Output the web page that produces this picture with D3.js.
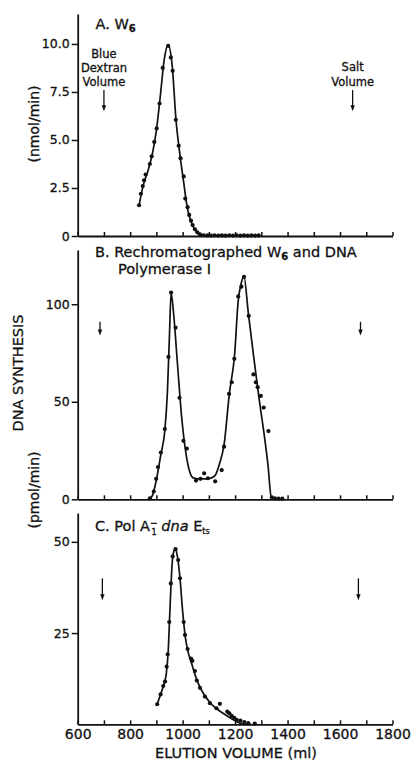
<!DOCTYPE html>
<html>
<head>
<meta charset="utf-8">
<script src="https://cdn.jsdelivr.net/npm/d3@7"></script>
<style>
  body { margin: 0; background: #fff; }
  svg { display: block; font-family: "DejaVu Sans", sans-serif; fill: #111; }
  svg text { stroke: #111; stroke-width: 0.3; }
</style>
</head>
<body>
<svg width="413" height="762"></svg>
<script>
// elution volume (ml) of each fraction and activity
const volA = [834, 841, 848, 853, 859, 875, 882, 892, 901, 912, 924, 945, 955, 962, 974, 985, 992, 1004, 1010, 1019, 1025, 1032, 1038, 1047, 1056, 1066, 1080, 1094, 1108, 1122, 1136, 1150, 1164, 1178, 1192, 1206, 1220, 1234, 1248, 1262, 1276, 1290];
const actA = [1.6, 2.2, 2.6, 2.9, 3.2, 3.75, 4.15, 4.9, 5.6, 6.9, 8.75, 9.9, 9.3, 8.6, 6.05, 4.7, 4.05, 3.1, 1.95, 1.5, 1.1, 0.8, 0.57, 0.35, 0.19, 0.09, 0.04, 0.03, 0.02, 0.04, 0.02, 0.03, 0.02, 0.04, 0.02, 0.03, 0.02, 0.03, 0.02, 0.03, 0.02, 0.03];

const volB = [875, 890, 899, 906, 917, 932, 946, 956, 973, 988, 1003, 1016, 1051, 1068, 1082, 1096, 1124, 1149, 1158, 1177, 1187, 1197, 1212, 1224, 1234, 1252, 1270, 1279, 1286, 1298, 1309, 1327, 1340, 1352, 1366, 1380];
const actB = [0.5, 4, 10.5, 16.5, 24, 36, 73, 106, 88, 52, 30, 26, 9.6, 10.5, 13.3, 10.8, 9.2, 15, 27, 54, 60, 72, 104, 109, 114, 94, 64, 60, 57.5, 53, 47, 35, 1, 0.5, 0.3, 0.3];

const volC = [903, 916, 926, 933, 939, 943, 949, 955, 962, 973, 983, 990, 1004, 1009, 1019, 1032, 1037, 1047, 1054, 1066, 1085, 1104, 1129, 1142, 1170, 1178, 1187, 1197, 1206, 1220, 1235, 1250, 1275];
const actC = [5.5, 8.2, 10.5, 11.7, 15.8, 19.2, 28, 38.6, 46, 48, 45, 40, 28, 24.5, 20.6, 18, 17.4, 14.6, 12, 10, 7.6, 5.8, 4.4, 5.6, 3.5, 3, 2.3, 1.8, 1.2, 1, 0.6, 0.3, 0.2];

// hand-drawn curves through the points
const lineAVol = [834, 850, 868, 885, 900, 915, 930, 945, 960, 975, 990, 1005, 1015, 1025, 1040, 1055, 1070, 1090];
const lineAVal = [1.6, 2.65, 3.4, 4.3, 5.5, 7.3, 9.2, 9.95, 8.9, 6.0, 4.2, 2.7, 1.7, 1.05, 0.5, 0.18, 0.03, 0];

const lineBVol = [872, 885, 900, 917, 932, 942, 950, 956, 965, 980, 995, 1010, 1025, 1040, 1060, 1090, 1110, 1125, 1140, 1158, 1178, 1198, 1212, 1222, 1234, 1250, 1270, 1290, 1310, 1325, 1338, 1355];
const lineBVal = [0, 2, 10, 23, 35, 55, 85, 106, 96, 70, 44, 26, 15, 11, 10.5, 10.5, 11, 12.5, 18, 28, 54, 74, 102, 110, 114, 96, 74, 53, 34, 18, 1, 0];

const lineCVol = [903, 915, 928, 938, 945, 952, 960, 967, 973, 980, 990, 1000, 1010, 1022, 1035, 1050, 1065, 1085, 1110, 1140, 1170, 1195, 1215, 1235, 1260];
const lineCVal = [5.5, 8, 10.8, 14, 20, 32, 44, 47.5, 48, 46, 40, 31, 24, 19.5, 16.5, 13, 10.3, 7.8, 5.5, 3.7, 2.3, 1.2, 0.4, 0, 0];

// void volume / salt volume markers (volume, arrow top, arrow tip)
const arrowVolA = [700, 1648], arrowTopA = 7.6, arrowTipA = 6.5;
const arrowVolB = [685, 1678], arrowTopB = 91, arrowTipB = 84;
const arrowVolC = [694, 1670], arrowTopC = 40, arrowTipC = 34;

const yTicksA = [0, 2.5, 5, 7.5, 10];
const yLabelsA = ["0", "2.5", "5.0", "7.5", "10.0"];
const yTicksB = [0, 50, 100];
const yTicksC = [25, 50];
const xTicks = [600, 700, 800, 900, 1000, 1100, 1200, 1300, 1400, 1500, 1600, 1700, 1800];
const xLabels = ["600", "", "800", "", "1000", "", "1200", "", "1400", "", "1600", "", "1800"];

const svg = d3.select("svg");
const x = d3.scaleLinear().domain([600, 1800]).range([77.7, 392.5]);

function drawPanel(o) {
  const y = d3.scaleLinear().domain([0, o.yMax]).range([o.bottom, o.top]);
  const g = svg.append("g");

  const yAxis = g.append("g")
    .attr("transform", `translate(${x(600)},0)`)
    .call(d3.axisLeft(y).tickValues(o.yTicks).tickFormat((d, i) => o.yLabels[i])
      .tickSize(6).tickPadding(2).tickSizeOuter(0));

  const xAxis = g.append("g")
    .attr("transform", `translate(0,${o.bottom})`)
    .call(d3.axisBottom(x).tickValues(xTicks)
      .tickFormat((d, i) => o.showX ? xLabels[i] : "")
      .tickSize(-4).tickPadding(5).tickSizeOuter(0));

  [yAxis, xAxis].forEach(a => {
    a.select(".domain").attr("stroke", "#111").attr("stroke-width", 1.8);
    a.selectAll(".tick line").attr("stroke", "#111").attr("stroke-width", 1.5);
    a.selectAll("text").attr("fill", "#111").attr("font-family", "DejaVu Sans");
  });
  yAxis.selectAll("text").attr("font-size", 12.5);
  xAxis.selectAll("text").attr("font-size", 14);

  const line = d3.line()
    .x(d => x(d[0]))
    .y(d => y(d[1]))
    .curve(d3.curveMonotoneX);

  g.append("path")
    .datum(d3.zip(o.lineVol, o.lineVal))
    .attr("d", line)
    .attr("fill", "none")
    .attr("stroke", "#111")
    .attr("stroke-width", 1.7);

  g.selectAll("circle")
    .data(d3.zip(o.vol, o.act))
    .join("circle")
    .attr("cx", d => x(d[0]))
    .attr("cy", d => y(d[1]))
    .attr("r", 2.1)
    .attr("fill", "#111");

  o.arrowVol.forEach(v => {
    const ax = x(v), y0 = y(o.arrowTop), y1 = y(o.arrowTip);
    g.append("line")
      .attr("x1", ax).attr("x2", ax)
      .attr("y1", y0).attr("y2", y1 - 3)
      .attr("stroke", "#111").attr("stroke-width", 1.3);
    g.append("path")
      .attr("d", `M${ax - 2.2},${y1 - 6}L${ax},${y1}L${ax + 2.2},${y1 - 6}Z`)
      .attr("fill", "#111");
  });

  return { g, y };
}

const A = drawPanel({ yMax: 11.56, bottom: 236, top: 14, yTicks: yTicksA, yLabels: yLabelsA,
  vol: volA, act: actA, lineVol: lineAVol, lineVal: lineAVal,
  arrowVol: arrowVolA, arrowTop: arrowTopA, arrowTip: arrowTipA, showX: false });
const B = drawPanel({ yMax: 127.8, bottom: 499.3, top: 250, yTicks: yTicksB, yLabels: yTicksB.map(String),
  vol: volB, act: actB, lineVol: lineBVol, lineVal: lineBVal,
  arrowVol: arrowVolB, arrowTop: arrowTopB, arrowTip: arrowTipB, showX: false });
const C = drawPanel({ yMax: 57.9, bottom: 724.3, top: 513, yTicks: yTicksC, yLabels: yTicksC.map(String),
  vol: volC, act: actC, lineVol: lineCVol, lineVal: lineCVal,
  arrowVol: arrowVolC, arrowTop: arrowTopC, arrowTip: arrowTipC, showX: true });

// panel titles
const tA = svg.append("text").attr("x", 95.5).attr("y", 29).attr("font-size", 14.5);
tA.append("tspan").text("A.  W");
tA.append("tspan").attr("font-size", 10).attr("dy", 3).attr("font-weight", "bold").text("6");

const tB = svg.append("text").attr("x", 95).attr("y", 256.5).attr("font-size", 14.5);
tB.append("tspan").text("B.  Rechromatographed W");
tB.append("tspan").attr("font-size", 10).attr("dy", 3).attr("font-weight", "bold").text("6");
tB.append("tspan").attr("dy", -3).text(" and DNA");
svg.append("text").attr("x", 118).attr("y", 274).attr("font-size", 14.5).text("Polymerase I");

const tC = svg.append("text").attr("x", 95).attr("y", 530.5).attr("font-size", 14.5);
tC.append("tspan").text("C.  Pol A");
tC.append("tspan").attr("font-size", 9).attr("dy", -5).text("\u2212");
tC.append("tspan").attr("font-size", 8).attr("dx", -6).attr("dy", 9).text("1");
tC.append("tspan").attr("dy", -4).text("  ");
tC.append("tspan").attr("font-style", "italic").text("dna");
tC.append("tspan").text(" E");
tC.append("tspan").attr("font-size", 8).attr("dy", 3).text("ts");

// arrow captions in panel A
const capA = svg.append("g").attr("font-size", 11.5).attr("text-anchor", "middle");
["Blue", "Dextran", "Volume"].forEach((s, i) =>
  capA.append("text").attr("x", x(arrowVolA[0])).attr("y", 58 + i * 14).text(s));
["Salt", "Volume"].forEach((s, i) =>
  capA.append("text").attr("x", x(arrowVolA[1])).attr("y", 71 + i * 15).text(s));

// axis titles
svg.append("text").attr("font-size", 14).attr("text-anchor", "middle")
  .attr("transform", "translate(39,124) rotate(-90)").text("(nmol/min)");
svg.append("text").attr("font-size", 14.5).attr("text-anchor", "middle")
  .attr("transform", "translate(23,373) rotate(-90)").text("DNA SYNTHESIS");
svg.append("text").attr("font-size", 14).attr("text-anchor", "middle")
  .attr("transform", "translate(39,490) rotate(-90)").text("(pmol/min)");
svg.append("text").attr("font-size", 14.5).attr("text-anchor", "middle")
  .attr("x", 236).attr("y", 758).text("ELUTION VOLUME (ml)");
</script>
</body>
</html>
